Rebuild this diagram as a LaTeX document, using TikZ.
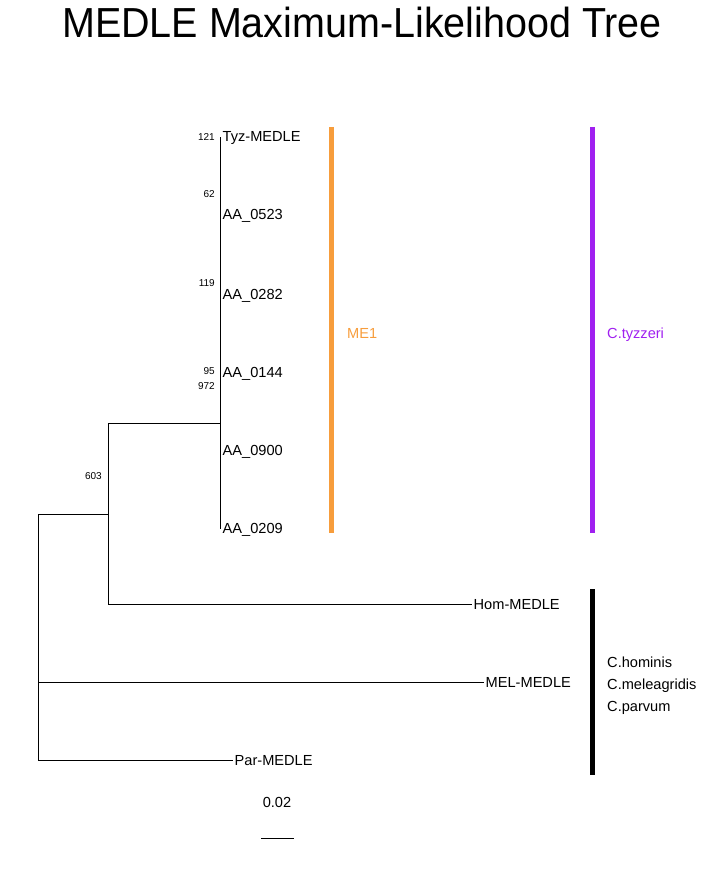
\documentclass[tikz,border=0pt]{standalone}
\usepackage{fontspec}
\setmainfont{Liberation Sans}
\usepackage{xcolor}
\definecolor{meorange}{RGB}{247,157,60}
\definecolor{tyzpurple}{RGB}{160,32,240}
\tikzset{
  tip/.style={anchor=west, inner xsep=1.5pt, inner ysep=0pt, text height=10pt, text depth=0pt, font=\fontsize{14.6}{16}\selectfont},
  boot/.style={anchor=east, inner sep=0pt, font=\fontsize{10}{12}\selectfont},
  branch/.style={line width=0.8pt},
  cladebar/.style={line width=5pt},
  cladename/.style={anchor=west, inner sep=0pt, text height=10pt, text depth=0pt, font=\fontsize{14.6}{16}\selectfont}
}
\begin{document}
\begin{tikzpicture}[x=1pt,y=-1pt]
\useasboundingbox (0,0) rectangle (720,877);

\node [xscale=0.94] (title) at (362,22) {\fontsize{42}{46}\selectfont MEDLE Maximum-Likelihood Tree};

\coordinate (root) at (38,637);
\coordinate (n1) at (108,514);
\coordinate (n2) at (220,423);

\node [tip] (tyz) at (221,137) {Tyz-MEDLE};
\node [tip] (a0523) at (221,215) {AA\_0523};
\node [tip] (a0282) at (221,294) {AA\_0282};
\node [tip] (a0144) at (221,372) {AA\_0144};
\node [tip] (a0900) at (221,450) {AA\_0900};
\node [tip] (a0209) at (221,528) {AA\_0209};
\node [tip] (hom) at (472,604) {Hom-MEDLE};
\node [tip] (mel) at (484,682) {MEL-MEDLE};
\node [tip] (par) at (233,760) {Par-MEDLE};

\draw [branch] (root) |- (n1);
\draw [branch] (root) |- (mel.west);
\draw [branch] (root) |- (par.west);
\draw [branch] (n1) |- (n2);
\draw [branch] (n1) |- (hom.west);
\draw [branch] (n2) |- (tyz.west);
\draw [branch] (n2) |- (a0209.west);

\node [boot] (b121) at (215,137) {121};
\node [boot] (b62) at (215,194) {62};
\node [boot] (b119) at (215,283) {119};
\node [boot] (b95) at (215,371) {95};
\node [boot] (b972) at (215,386) {972};
\node [boot] (b603) at (102,476) {603};

% clade bars
\draw [cladebar, meorange] (331,127) -- (331,533);
\node [cladename, text=meorange] (me1) at (347,333) {ME1};
\draw [cladebar, tyzpurple] (592,127) -- (592,533);
\node [cladename, text=tyzpurple] (tyzzeri) at (607,333) {C.tyzzeri};
\draw [cladebar] (592,589) -- (592,775);
\node [cladename] (hominis) at (607,662) {C.hominis};
\node [cladename] (meleagridis) at (607,684) {C.meleagridis};
\node [cladename] (parvum) at (607,706) {C.parvum};

% scale bar
\coordinate (sbl) at (261,838);
\coordinate (sbr) at (294,838);
\draw [branch] (sbl) -- (sbr);
\node [font=\fontsize{14.6}{16}\selectfont] (sblabel) at (277,802) {0.02};
\end{tikzpicture}
\end{document}
